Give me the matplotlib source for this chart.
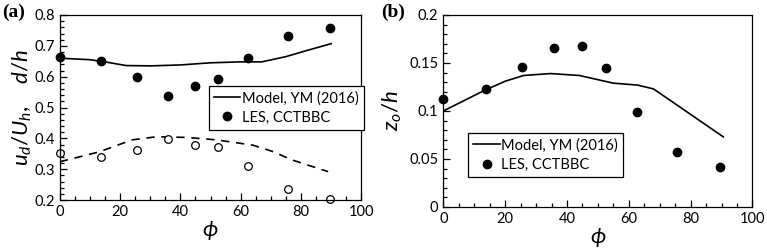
import matplotlib
matplotlib.use("Agg")
import matplotlib.pyplot as plt
from matplotlib.ticker import MultipleLocator

plt.rcParams['font.family'] = ['Lato', 'DejaVu Sans']
plt.rcParams['mathtext.fontset'] = 'custom'
plt.rcParams['mathtext.it'] = 'Lato:italic'
plt.rcParams['mathtext.rm'] = 'Lato'

# LES points (same angles for both panels)
phi_les = [0, 13.7, 25.6, 35.9, 44.8, 52.5, 62.5, 75.6, 89.5]
ud_les = [0.665, 0.650, 0.600, 0.538, 0.570, 0.593, 0.659, 0.731, 0.759]
d_les = [0.352, 0.341, 0.362, 0.398, 0.377, 0.373, 0.310, 0.237, 0.202]
z0_les = [0.113, 0.123, 0.146, 0.166, 0.168, 0.145, 0.099, 0.057, 0.042]

# model curves
phi_ud = [0, 10, 15, 22, 30, 40, 50, 60, 67, 75, 82, 90]
ud_mod = [0.660, 0.655, 0.648, 0.636, 0.635, 0.638, 0.645, 0.648, 0.648, 0.665, 0.685, 0.707]
phi_d = [0, 13, 24, 32, 42, 52, 64, 70.7, 77, 89]
d_mod = [0.324, 0.356, 0.395, 0.405, 0.403, 0.395, 0.378, 0.357, 0.330, 0.292]
phi_z = [0, 13, 20, 26, 34.6, 44, 55, 62.8, 68, 76.6, 90.6]
z0_mod = [0.100, 0.121, 0.131, 0.137, 0.139, 0.137, 0.129, 0.127, 0.123, 0.104, 0.073]

fig = plt.figure(figsize=(7.67, 2.5), dpi=100)
ax1 = fig.add_axes([0.078, 0.2, 0.393, 0.74])
ax2 = fig.add_axes([0.578, 0.172, 0.403, 0.768])


def style(ax, xminor, yminor):
    ax.xaxis.set_minor_locator(MultipleLocator(xminor))
    ax.yaxis.set_minor_locator(MultipleLocator(yminor))
    ax.tick_params(which='both', direction='in', top=False, right=False,
                   labelsize=10.5, width=0.9)
    ax.tick_params(which='major', length=5)
    ax.tick_params(which='minor', length=3)
    for s in ax.spines.values():
        s.set_linewidth(0.9)
    ax.set_xlim(0, 100)
    ax.set_xticks([0, 20, 40, 60, 80, 100])
    ax.set_xlabel(r'$\phi$', fontsize=16, labelpad=0)


def legend(ax, anchor):
    leg = ax.legend(loc='upper left', bbox_to_anchor=anchor, fontsize=10.5,
                    frameon=True, fancybox=False, edgecolor='k', framealpha=1,
                    handlelength=1.8, handletextpad=0.1, borderpad=0.35,
                    labelspacing=0.35, borderaxespad=0)
    leg.get_frame().set_linewidth(0.9)


# (a)
ax1.plot(phi_ud, ud_mod, 'k-', lw=1.2, label='Model, YM (2016)')
ax1.plot(phi_d, d_mod, 'k--', lw=1.2, dashes=(5, 4))
ax1.plot(phi_les, ud_les, 'ko', ms=6, label='LES, CCTBBC', clip_on=False)
ax1.plot(phi_les, d_les, 'o', mfc='white', mec='k', ms=5.5, mew=0.9, clip_on=False)
ax1.set_ylim(0.2, 0.8)
ax1.set_yticks([0.2, 0.3, 0.4, 0.5, 0.6, 0.7, 0.8])
ax1.set_yticklabels(['0.2', '0.3', '0.4', '0.5', '0.6', '0.7', '0.8'])
style(ax1, 5, 0.02)
ax1.set_ylabel(r'$u_d/U_h$,    $d/h$', fontsize=16, labelpad=0)
legend(ax1, (0.495, 0.616))

# (b)
ax2.plot(phi_z, z0_mod, 'k-', lw=1.2, label='Model, YM (2016)')
ax2.plot(phi_les, z0_les, 'ko', ms=6, label='LES, CCTBBC', clip_on=False)
ax2.set_ylim(0, 0.2)
ax2.set_yticks([0, 0.05, 0.1, 0.15, 0.2])
ax2.set_yticklabels(['0', '0.05', '0.1', '0.15', '0.2'])
style(ax2, 5, 0.01)
ax2.set_ylabel(r'$z_o/h$', fontsize=16, labelpad=4)
legend(ax2, (0.081, 0.385))

fig.text(0.003, 0.95, '(a)', fontsize=14, fontweight='bold', family='Liberation Serif',
         va='center', ha='left')
fig.text(0.497, 0.95, '(b)', fontsize=14, fontweight='bold', family='Liberation Serif',
         va='center', ha='left')

fig.savefig('out.png', dpi=100)
